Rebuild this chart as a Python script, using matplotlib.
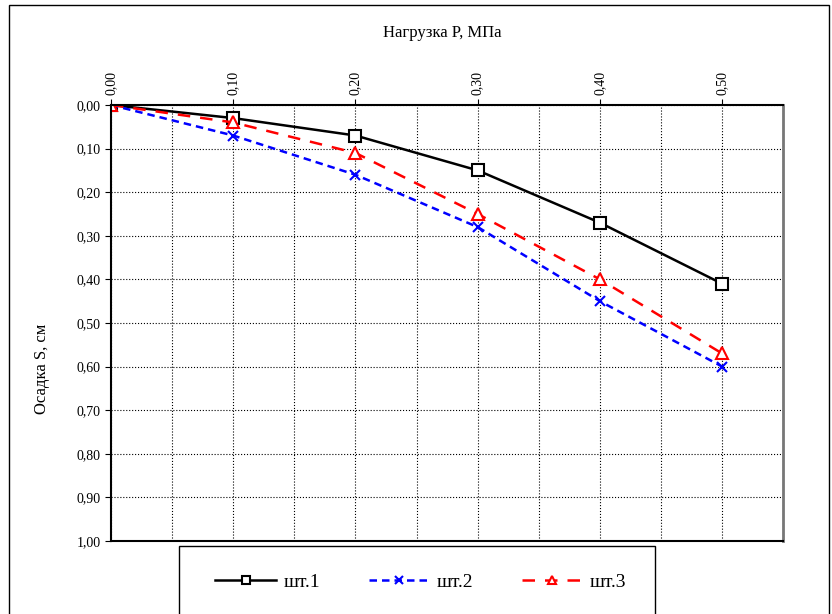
import matplotlib
matplotlib.use("Agg")
import matplotlib.pyplot as plt
from matplotlib.patches import Rectangle
from matplotlib.ticker import MultipleLocator, FuncFormatter

plt.rcParams['font.family'] = ['Liberation Serif', 'DejaVu Serif']

# load, MPa
load = [0.0, 0.1, 0.2, 0.3, 0.4, 0.5]
# settlement, cm
s1 = [0.0, 0.03, 0.07, 0.15, 0.27, 0.41]
s2 = [0.0, 0.07, 0.16, 0.28, 0.45, 0.60]
s3 = [0.0, 0.04, 0.11, 0.25, 0.40, 0.57]
labels = ['шт.1', 'шт.2', 'шт.3']

fig = plt.figure(figsize=(8.32, 6.14), dpi=100)
ax = fig.add_axes([0.1334, 0.119, 0.808, 0.710])

ax.plot(load, s1, color='black', lw=1.8, marker='s', ms=8,
        mfc='white', mec='black', mew=1.5, label=labels[0])
ax.plot(load, s2, color='blue', lw=1.8, ls=(0, (3, 2)), marker='x', ms=7,
        mec='blue', mew=1.5, label=labels[1])
ax.plot(load, s3, color='red', lw=1.8, ls=(0, (5, 4)), marker='^', ms=8,
        mfc='white', mec='red', mew=1.5, label=labels[2])

ax.set_xlim(0, 0.55)
ax.set_ylim(1.0, 0.0)
ax.xaxis.set_major_locator(MultipleLocator(0.1))
ax.xaxis.set_minor_locator(MultipleLocator(0.05))
ax.yaxis.set_major_locator(MultipleLocator(0.1))
fmt = FuncFormatter(lambda v, p: f"{v:.2f}".replace('.', ','))
ax.xaxis.set_major_formatter(fmt)
ax.yaxis.set_major_formatter(fmt)
ax.xaxis.tick_top()
ax.tick_params(axis='x', which='major', labelrotation=90, labelsize=10, length=4)
ax.tick_params(axis='x', which='minor', length=0)
ax.tick_params(axis='y', labelsize=10, length=4)
ax.grid(True, which='both', axis='x', color='black', ls=':', lw=0.8)
ax.grid(True, which='major', axis='y', color='black', ls=':', lw=0.8)

for side in ['left', 'top', 'bottom']:
    ax.spines[side].set_linewidth(1.5)
ax.spines['right'].set_color('#777777')
ax.spines['right'].set_linewidth(2)

fig.text(0.531, 0.946, 'Нагрузка P, МПа', ha='center', va='center', fontsize=12)
fig.text(0.050, 0.40, 'Осадка S, см', ha='center', va='center', fontsize=12,
         rotation=90)

# outer border
fig.patches.append(Rectangle((0.011, -0.01), 0.985, 1.002, transform=fig.transFigure,
                             fill=False, ec='black', lw=1))
# legend frame
fig.patches.append(Rectangle((0.215, -0.02), 0.572, 0.131, transform=fig.transFigure,
                             fill=False, ec='black', lw=1))
fig.legend(loc='center', bbox_to_anchor=(0.506, 0.052), ncol=3, frameon=False,
           fontsize=14, handlelength=3.1, columnspacing=2.5, handletextpad=0.4,
           markerscale=0.75)

fig.savefig('out.png', dpi=100)
